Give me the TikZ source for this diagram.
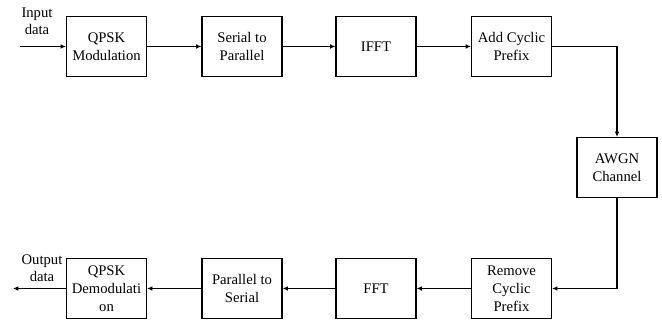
\documentclass[tikz,border=0pt]{standalone}
\usepackage{fontspec}
\setmainfont{Liberation Serif}
\usepackage{tikz}
\usetikzlibrary{arrows.meta, positioning, calc}

\begin{document}
\begin{tikzpicture}[
  x=0.75pt, y=-0.75pt,
  blk/.style={draw, line width=0.8pt, minimum width=60pt, minimum height=45pt, align=center, inner sep=2pt, font=\fontsize{11}{13.5}\selectfont},
  lbl/.style={align=center, inner sep=0pt, font=\fontsize{11}{13}\selectfont},
  flow/.style={-{Latex[length=4pt, width=3.5pt]}, line width=0.8pt}
]
  \useasboundingbox (0,0) rectangle (662,320);

  % transmitter
  \node[blk] (qmod) at (106.5, 46.5) {QPSK\\Modulation};
  \node[blk] (s2p)  at (242, 46.5) {Serial to\\Parallel};
  \node[blk] (ifft) at (376, 46.5) {IFFT};
  \node[blk] (acp)  at (511.5, 46.5) {Add Cyclic\\Prefix};

  % channel
  \node[blk] (awgn) at (617, 167.5) {AWGN\\Channel};

  % receiver
  \node[blk] (rcp)    at (511.5, 288.5) {Remove\\Cyclic\\Prefix};
  \node[blk] (fft)    at (376, 288.5) {FFT};
  \node[blk] (p2s)    at (242, 288.5) {Parallel to\\Serial};
  \node[blk] (qdemod) at (106.5, 288.5) {QPSK\\Demodulati\\on};

  \coordinate (in)  at (20, 46.5);
  \coordinate (out) at (13, 288.5);
  \node[lbl] (inlbl)  at (37, 21) {Input\\data};
  \node[lbl] (outlbl) at (42, 268) {Output\\data};

  \draw[flow] (in) -- (qmod);
  \draw[flow] (qmod) -- (s2p);
  \draw[flow] (s2p) -- (ifft);
  \draw[flow] (ifft) -- (acp);
  \draw[flow] (acp.east) -| (awgn.north);
  \draw[flow] (awgn.south) |- (rcp.east);
  \draw[flow] (rcp) -- (fft);
  \draw[flow] (fft) -- (p2s);
  \draw[flow] (p2s) -- (qdemod);
  \draw[flow] (qdemod) -- (out);
\end{tikzpicture}
\end{document}
